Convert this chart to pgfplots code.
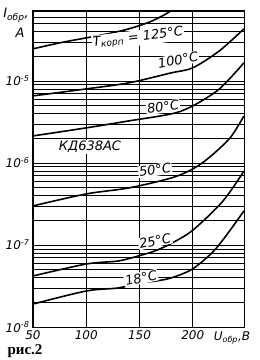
\documentclass[border=0pt]{standalone}
\usepackage{pgfplots}
\pgfplotsset{compat=1.18}
\usepackage{fontspec}
\setmainfont{DejaVu Sans}
\newfontfamily\rf{Liberation Serif}
\begin{document}
\begin{tikzpicture}[x=1pt,y=1pt]
\useasboundingbox (-33,-33) rectangle (227,327);
\begin{axis}[
  at={(0,0)}, anchor=south west, scale only axis,
  width=212pt, height=317pt,
  xmin=50, xmax=249, ymode=log, ymin=1e-8, ymax=7.3e-5,
  xtick={50,100,150,200},
  xticklabels={\itshape 50,\itshape 100,\itshape 150,\itshape 200},
  ytick={1e-8,1e-7,1e-6,1e-5},
  yticklabels={\itshape 10\textsuperscript{-8},\itshape 10\textsuperscript{-7},\itshape 10\textsuperscript{-6},\itshape 10\textsuperscript{-5}},
  minor ytick={2e-8,3e-8,4e-8,5e-8,6e-8,7e-8,8e-8,9e-8,
               2e-7,3e-7,4e-7,5e-7,6e-7,7e-7,8e-7,9e-7,
               2e-6,3e-6,4e-6,5e-6,6e-6,7e-6,8e-6,9e-6,
               2e-5,3e-5,4e-5,5e-5,6e-5,7e-5},
  grid=both,
  major grid style={black, line width=0.7pt},
  minor grid style={black, line width=0.4pt},
  tick style={draw=none},
  axis line style={line width=1pt},
  tick label style={font=\fontsize{12}{12}\selectfont},
  cycle list={black,solid,line width=1.6pt,smooth,no marks\\},
]
% 125 C
\addplot coordinates {(50,2.455e-5) (75,2.904e-5) (100,3.342e-5) (120,3.741e-5) (140,4.305e-5) (160,5.248e-5) (175,6.561e-5) (185,7.98e-5)};
% 100 C
\addplot coordinates {(50,6.56e-6) (100,7.98e-6) (140,9.46e-6) (180,1.253e-5) (200,1.442e-5) (225,2.323e-5) (248,4.305e-5)};
% 80 C
\addplot coordinates {(50,2.133e-6) (100,2.673e-6) (140,3.251e-6) (180,3.963e-6) (200,4.955e-6) (225,7.98e-6) (248,1.66e-5)};
% 50 C
\addplot coordinates {(50,2.992e-7) (100,4.188e-7) (140,4.955e-7) (180,6.56e-7) (200,8.45e-7) (215,1.151e-6) (235,2.018e-6) (248,3.741e-6)};
% 25 C
\addplot coordinates {(50,4.188e-8) (100,5.86e-8) (130,6.38e-8) (150,7.41e-8) (165,8.51e-8) (180,1.047e-7) (200,1.514e-7) (228,3.39e-7) (248,7.94e-7)};
% 18 C
\addplot coordinates {(50,1.905e-8) (100,2.748e-8) (130,2.992e-8) (150,3.443e-8) (165,3.63e-8) (180,3.98e-8) (200,5.13e-8) (222,9.12e-8) (248,2.6e-7)};
\end{axis}
\begin{scope}[every node/.style={font=\fontsize{13}{13}\selectfont\itshape, inner sep=1pt}]
\node[fill=white, rotate=7] at (105,289) {T\textsubscript{корп} = 125°C};
\node[fill=white, rotate=10] at (145,267) {100°C};
\node[fill=white, rotate=8] at (130,220) {80°C};
\node[fill=white] at (57,180) {КД638АС};
\node[fill=white, rotate=8] at (122,157) {50°C};
\node[fill=white, rotate=12] at (122,86) {25°C};
\node[fill=white, rotate=12] at (108,49) {18°C};
\node at (-17,312) {I\textsubscript{обр},};
\node at (-13,294) {A};
\node[font=\fontsize{12}{12}\selectfont\itshape] at (199,-11) {U\textsubscript{обр},B};
\node[font=\fontsize{15}{15}\selectfont\rf\bfseries] at (-8,-24) {рис.2};
\end{scope}
\end{tikzpicture}
\end{document}
